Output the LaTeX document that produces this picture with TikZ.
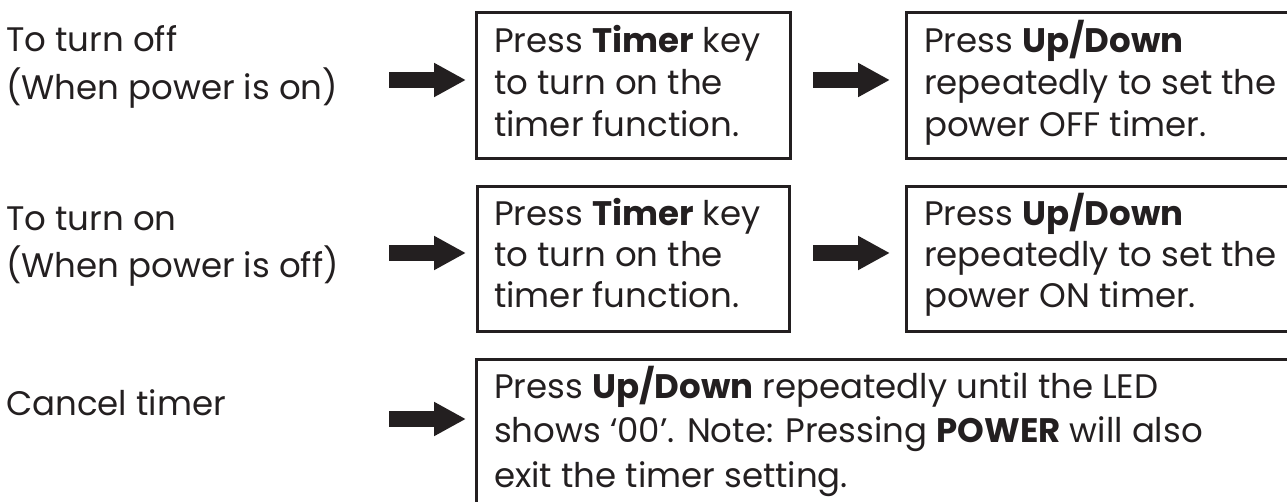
\documentclass[tikz,border=0pt]{standalone}
\usepackage{fontspec}
\setmainfont{Poppins}
\usetikzlibrary{arrows.meta}
\definecolor{ink}{RGB}{35,31,32}
\newcommand{\tlines}[2]{\vtop{\baselineskip=#1\relax #2}}
\tikzset{
  boxnode/.style={draw=ink, line width=2.7pt, rectangle, inner sep=0pt, anchor=north west},
  txt/.style={anchor=base west, inner sep=0pt, text=ink, font=\fontsize{34}{42}\selectfont},
  bigarrow/.style={draw=ink, line width=16pt, line cap=butt, -{Triangle[length=32pt,width=32pt]}}
}
\begin{document}
\begin{tikzpicture}[x=1pt,y=1pt]
\useasboundingbox (0,0) rectangle (1287,-502);
\clip (0,0) rectangle (1287,-502);
% left labels
\node[txt] (l1) at (6,-52) {\tlines{48pt}{\hbox{To turn off}\hbox{(When power is on)}}};
\node[txt] (l2) at (6,-231) {\tlines{47pt}{\hbox{To turn on}\hbox{(When power is off)}}};
\node[txt] (l3) at (6,-415) {Cancel timer};
% boxes
\node[boxnode, minimum width=314pt, minimum height=146pt] (b11) at (475,-11) {};
\node[boxnode, minimum width=420pt, minimum height=146pt] (b12) at (905,-11) {};
\node[boxnode, minimum width=312pt, minimum height=145pt] (b21) at (476,-185) {};
\node[boxnode, minimum width=420pt, minimum height=145pt] (b22) at (905,-185) {};
\node[boxnode, minimum width=850pt, minimum height=170pt] (b3) at (475,-358) {};
% box texts
\node[txt] (t11) at (494,-53) {\tlines{42pt}{\hbox{Press \textbf{Timer} key}\hbox{to turn on the}\hbox{timer function.}}};
\node[txt] (t12) at (924,-53) {\tlines{42pt}{\hbox{Press \textbf{Up/Down}}\hbox{repeatedly to set the}\hbox{power OFF timer.}}};
\node[txt] (t21) at (494,-226) {\tlines{41pt}{\hbox{Press \textbf{Timer} key}\hbox{to turn on the}\hbox{timer function.}}};
\node[txt] (t22) at (924,-226) {\tlines{41pt}{\hbox{Press \textbf{Up/Down}}\hbox{repeatedly to set the}\hbox{power ON timer.}}};
\node[txt] (t3) at (494,-398) {\tlines{44.5pt}{\hbox{Press \textbf{Up/Down} repeatedly until the LED}\hbox{shows ‘00’. Note: Pressing \textbf{POWER} will also}\hbox{exit the timer setting.}}};
% arrows
\coordinate (a1s) at (389,-80); \coordinate (a1e) at (466,-80);
\coordinate (a2s) at (813,-80); \coordinate (a2e) at (890,-80);
\coordinate (a3s) at (389,-253); \coordinate (a3e) at (466,-253);
\coordinate (a4s) at (813,-253); \coordinate (a4e) at (890,-253);
\coordinate (a5s) at (389,-419); \coordinate (a5e) at (466,-419);
\draw[bigarrow] (a1s) -- (a1e);
\draw[bigarrow] (a2s) -- (a2e);
\draw[bigarrow] (a3s) -- (a3e);
\draw[bigarrow] (a4s) -- (a4e);
\draw[bigarrow] (a5s) -- (a5e);
\end{tikzpicture}
\end{document}
